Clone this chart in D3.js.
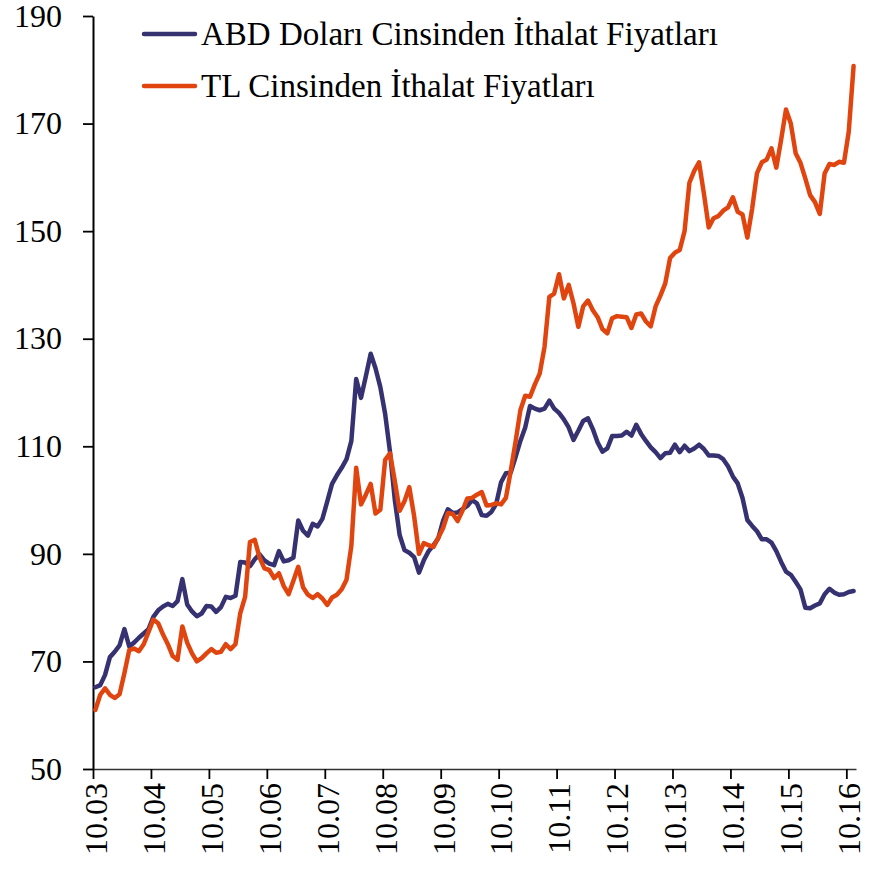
<!DOCTYPE html>
<html>
<head>
<meta charset="utf-8">
<script src="https://cdn.jsdelivr.net/npm/d3@7"></script>
<style>
  body { margin: 0; background: #fff; }
  svg { display: block; }
  text { font-family: "Liberation Serif", "Times New Roman", serif; fill: #000; }
</style>
</head>
<body>
<svg width="883" height="872"></svg>
<script>
// monthly, Oct 2003 .. Nov 2016 (158 months)
var tickLabels = ["10.03","10.04","10.05","10.06","10.07","10.08","10.09",
                  "10.10","10.11","10.12","10.13","10.14","10.15","10.16"];
var yTicks = [50, 70, 90, 110, 130, 150, 170, 190];
var seriesNames = ["ABD Doları Cinsinden İthalat Fiyatları", "TL Cinsinden İthalat Fiyatları"];
var seriesColors = ["#363272", "#e1450f"];

var usdPrices = [
  65.2, 65.6, 67.5, 70.8, 71.8, 73.0, 76.0, 72.8, 73.5, 74.4, 75.2, 76.0,
  78.3, 79.5, 80.2, 80.7, 80.3, 81.2, 85.3, 80.6, 79.3, 78.4, 78.9, 80.3,
  80.2, 79.2, 80.1, 82.0, 81.8, 82.2, 88.5, 88.4, 87.7, 89.0, 89.9, 88.8,
  88.2, 87.9, 90.5, 88.6, 88.8, 89.3, 96.2, 94.3, 93.4, 95.6, 95.1, 96.5,
  99.7, 103.0, 104.6, 106.0, 107.6, 111.0, 122.5, 119.0, 123.0, 127.2, 124.5, 121.0,
  116.0, 109.0, 100.0, 93.5, 90.7, 90.2, 89.4, 86.5, 88.8, 90.5, 91.6, 92.9,
  96.2, 98.3, 97.6, 97.7, 98.3, 98.9, 100.0, 99.4, 97.2, 97.1, 97.8, 99.3,
  103.3, 105.0, 105.1, 108.0, 111.0, 113.5, 117.5, 117.0, 116.7, 117.0, 118.5, 117.0,
  116.2, 115.0, 113.5, 111.2, 112.9, 114.7, 115.2, 113.2, 110.7, 109.0, 109.6, 111.9,
  111.9, 112.0, 112.7, 112.0, 114.0, 112.3, 111.0, 109.8, 108.9, 107.8, 108.7, 108.8,
  110.3, 108.9, 110.1, 109.1, 109.6, 110.3, 109.5, 108.3, 108.3, 108.2, 107.6, 106.3,
  104.4, 103.1, 100.4, 96.3, 95.2, 94.2, 92.7, 92.7, 92.1, 90.5, 88.5, 86.7,
  86.1, 84.8, 83.4, 80.0, 79.9, 80.4, 80.8, 82.5, 83.5, 82.8, 82.4, 82.5,
  82.9, 83.1
];

var tlPrices = [
  61.0, 63.8, 65.0, 63.8, 63.2, 63.9, 67.8, 72.1, 72.4, 71.9, 73.2, 75.5,
  77.8, 77.1, 75.0, 73.2, 71.0, 70.3, 76.5, 73.5, 71.5, 70.0, 70.6, 71.5,
  72.3, 71.6, 71.8, 73.2, 72.3, 73.2, 79.0, 82.0, 92.2, 92.6, 89.3, 87.3,
  87.0, 85.5, 86.4, 84.0, 82.5, 85.0, 87.6, 83.8, 82.4, 81.8, 82.5, 81.7,
  80.5, 81.9, 82.4, 83.4, 85.2, 91.5, 106.0, 99.2, 101.0, 103.0, 97.5, 98.2,
  107.5, 108.7, 103.5, 98.0, 99.8, 102.4, 97.0, 90.0, 92.0, 91.6, 91.3, 93.0,
  94.8, 97.6, 97.4, 96.1, 98.0, 100.3, 100.4, 101.0, 101.5, 99.0, 99.1, 99.4,
  99.2, 100.4, 105.4, 110.8, 116.7, 119.4, 119.2, 121.5, 123.5, 128.5, 137.8, 138.4,
  142.0, 137.5, 140.0, 136.6, 132.2, 136.0, 137.1, 135.3, 134.0, 131.8, 131.0, 133.8,
  134.2, 134.1, 134.0, 132.0, 134.5, 134.7, 133.2, 132.3, 136.0, 138.0, 140.3, 145.0,
  146.0, 146.5, 150.0, 159.0, 161.2, 162.8, 157.0, 150.7, 152.4, 152.8, 153.8, 154.4,
  156.3, 153.6, 153.1, 148.8, 154.2, 160.8, 162.8, 163.3, 165.4, 161.8, 167.0, 172.6,
  170.0, 164.5, 162.7, 159.8, 156.7, 155.4, 153.2, 160.7, 162.5, 162.3, 162.9, 162.7,
  168.5, 180.7
];

var svg = d3.select("svg");
var n = usdPrices.length;

var x = d3.scaleLinear().domain([0, n]).range([93, 856]);
var y = d3.scaleLinear().domain([50, 190]).range([769, 16]);

// y axis
var yAxis = svg.append("g")
    .attr("transform", "translate(93,0)")
    .call(d3.axisLeft(y).tickValues(yTicks).tickSize(10).tickPadding(21).tickSizeOuter(0));
yAxis.select(".domain").attr("stroke", "#000").attr("stroke-width", 2);
yAxis.selectAll(".tick line").attr("stroke", "#000").attr("stroke-width", 1.8);
yAxis.selectAll("text").style("font-size", "32px").attr("fill", "#000");

// x axis: ticks on month boundaries, labels under month centres
var xAxis = svg.append("g")
    .attr("transform", "translate(0,769)")
    .call(d3.axisBottom(x)
      .tickValues(d3.range(0, n, 12))
      .tickFormat(function(d) { return tickLabels[d / 12]; })
      .tickSize(10).tickSizeOuter(0));
xAxis.select(".domain").attr("stroke", "#333").attr("stroke-width", 1.6);
xAxis.selectAll(".tick line").attr("stroke", "#000").attr("stroke-width", 1.8);
var half = (x(1) - x(0)) / 2;
xAxis.selectAll("text")
    .style("font-size", "32px")
    .attr("fill", "#000")
    .attr("text-anchor", "end")
    .attr("dy", "0.34em")
    .attr("y", 0)
    .attr("x", 0)
    .attr("transform", "translate(" + half + ",14) rotate(-90)");

// lines
var line = d3.line()
    .x(function(d, i) { return x(i + 0.5); })
    .y(function(d) { return y(d); });

[usdPrices, tlPrices].forEach(function(s, k) {
  svg.append("path")
      .datum(s)
      .attr("fill", "none")
      .attr("stroke", seriesColors[k])
      .attr("stroke-width", 4.5)
      .attr("stroke-linejoin", "round")
      .attr("stroke-linecap", "round")
      .attr("d", line);
});

// legend
var legend = svg.append("g").selectAll("g")
    .data(seriesNames)
  .enter().append("g")
    .attr("transform", function(d, i) { return "translate(0," + (34 + i * 52) + ")"; });
legend.append("line")
    .attr("x1", 144).attr("x2", 195)
    .attr("stroke", function(d, i) { return seriesColors[i]; })
    .attr("stroke-width", 4.5)
    .attr("stroke-linecap", "round");
legend.append("text")
    .attr("x", 201)
    .attr("y", 11)
    .style("font-size", "33px")
    .text(function(d) { return d; });
</script>
</body>
</html>
